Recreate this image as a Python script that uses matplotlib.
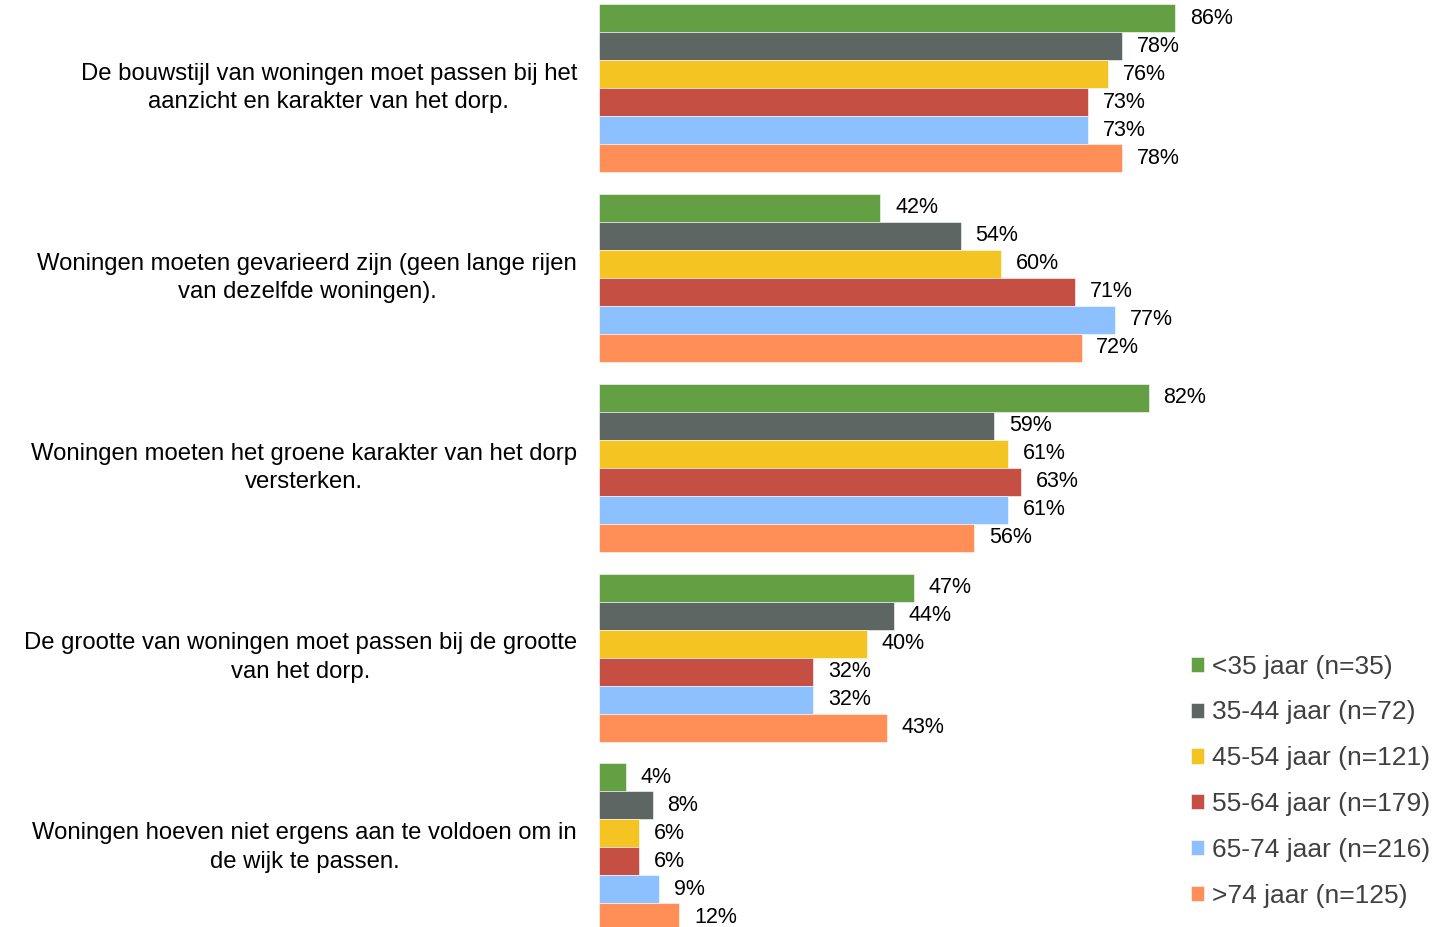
import matplotlib.pyplot as plt
import numpy as np

plt.rcParams['font.family'] = ['Liberation Sans', 'DejaVu Sans']

statements = [
    "De bouwstijl van woningen moet passen bij het\naanzicht en karakter van het dorp.",
    "Woningen moeten gevarieerd zijn (geen lange rijen\nvan dezelfde woningen).",
    "Woningen moeten het groene karakter van het dorp\nversterken.",
    "De grootte van woningen moet passen bij de grootte\nvan het dorp.",
    "Woningen hoeven niet ergens aan te voldoen om in\nde wijk te passen.",
]
groups = ["<35 jaar (n=35)", "35-44 jaar (n=72)", "45-54 jaar (n=121)",
          "55-64 jaar (n=179)", "65-74 jaar (n=216)", ">74 jaar (n=125)"]
u35 = [86, 42, 82, 47, 4]
a35_44 = [78, 54, 59, 44, 8]
a45_54 = [76, 60, 61, 40, 6]
a55_64 = [73, 71, 63, 32, 6]
a65_74 = [73, 77, 61, 32, 9]
o74 = [78, 72, 56, 43, 12]
colors = ['#63a043', '#5d6663', '#f4c522', '#c44f42', '#8dc0ff', '#ff8f56']

series = [u35, a35_44, a45_54, a55_64, a65_74, o74]

fig = plt.figure(figsize=(14.32, 9.27), dpi=100)
ax = fig.add_axes([599/1432, 0, 1 - 599/1432, 1])

period = 6.78
base = np.arange(len(statements)) * period
for j, vals in enumerate(series):
    y = base + j + 0.5
    ax.barh(y, vals, height=1.0, color=colors[j], edgecolor='white', linewidth=0.4, label=groups[j])
    for yy, v in zip(y, vals):
        ax.text(v + 2.2, yy, f"{v}%", va='center', ha='left', fontsize=15.5, color='black')

for i, s in enumerate(statements):
    ax.text(-3.3, base[i] + 3, s, ha='right', va='center', multialignment='center',
            fontsize=17.2, color='black', linespacing=1.38)

ax.set_xlim(0, 124.3)
ax.set_ylim(32.96, -0.143)
ax.axis('off')

leg = fig.legend(loc='upper left', bbox_to_anchor=(1180/1432, 1 - 644/927), frameon=False,
                 fontsize=19, handlelength=0.5, handleheight=0.5, handletextpad=0.3,
                 labelspacing=0.83, borderaxespad=0)
for t in leg.get_texts():
    t.set_color('#404040')

fig.savefig('out.png', dpi=100)
